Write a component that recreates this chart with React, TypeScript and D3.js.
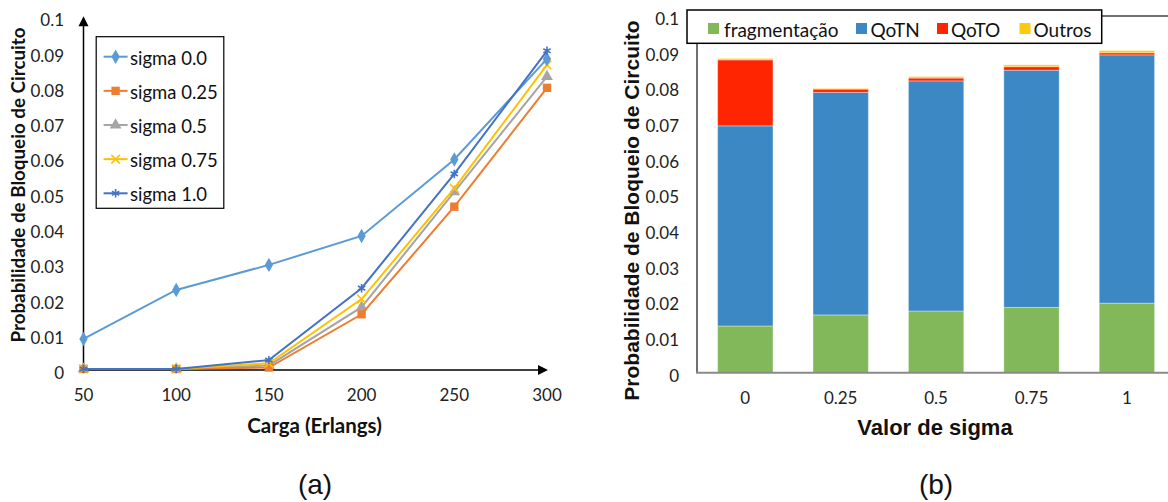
import React from "react";
import * as d3 from "d3";

// ---------- Data: chart (a) ----------
const LOADS = [50, 100, 150, 200, 250, 300];
const LOAD_TICKS = [50, 100, 150, 200, 250, 300];
const SERIES_NAMES = ["sigma 0.0", "sigma 0.25", "sigma 0.5", "sigma 0.75", "sigma 1.0"];
const SIGMA_00 = [0.0088, 0.0227, 0.0298, 0.038, 0.0597, 0.0882];
const SIGMA_025 = [0.0003, 0.0003, 0.0007, 0.0158, 0.0463, 0.08];
const SIGMA_05 = [0.0003, 0.0003, 0.0013, 0.0178, 0.0505, 0.0832];
const SIGMA_075 = [0.0003, 0.0003, 0.0019, 0.0201, 0.0515, 0.0865];
const SIGMA_10 = [0.0003, 0.0003, 0.0028, 0.0232, 0.0556, 0.0905];
const Y_TICKS = [0, 0.01, 0.02, 0.03, 0.04, 0.05, 0.06, 0.07, 0.08, 0.09, 0.1];

// ---------- Data: chart (b) ----------
const SIGMA_CATS = ["0", "0.25", "0.5", "0.75", "1"];
const CAUSES = ["fragmentação", "QoTN", "QoTO", "Outros"];
const FRAG = [0.0131, 0.0162, 0.0173, 0.0183, 0.0195];
const QOTN = [0.0561, 0.0624, 0.0645, 0.0665, 0.0696];
const QOTO = [0.0185, 0.0009, 0.0008, 0.001, 0.0006];
const OUTROS = [0.0004, 0.0002, 0.0004, 0.0005, 0.0006];

const LINE_COLORS = ["#5B9BD5", "#ED7D31", "#A5A5A5", "#FFC000", "#4472C4"];
const MARKERS = [d3.symbolDiamond, d3.symbolSquare, d3.symbolTriangle, d3.symbolTimes, d3.symbolAsterisk];
const MARKER_FILLED = [true, true, true, false, false];
const BAR_COLORS = ["#82B75A", "#3B88C4", "#FF2500", "#FFC90E"];

const CAL = "Lato, 'Open Sans', sans-serif";
const ARIAL = "'Liberation Sans', Arial, sans-serif";

function Marker({ i, x, y }: { i: number; x: number; y: number }) {
  const size = MARKER_FILLED[i] ? (i === 1 ? 70 : 60) : 50;
  const p = d3.symbol().type(MARKERS[i]).size(size)() || "";
  return (
    <path
      d={p}
      transform={`translate(${x},${y})`}
      fill={MARKER_FILLED[i] ? LINE_COLORS[i] : "none"}
      stroke={LINE_COLORS[i]}
      strokeWidth={MARKER_FILLED[i] ? 0 : 1.6}
    />
  );
}

function ChartA() {
  const series = [SIGMA_00, SIGMA_025, SIGMA_05, SIGMA_075, SIGMA_10];
  const x = d3.scaleLinear().domain([50, 300]).range([83.5, 547]);
  const y = d3.scaleLinear().domain([0, 0.1]).range([370, 17.3]);
  const line = d3
    .line<number>()
    .x((_, k) => x(LOADS[k]))
    .y((v) => y(v));
  const order = [2, 1, 3, 0, 4];
  return (
    <g>
      {/* axes */}
      <line x1={x(50)} x2={x(50)} y1={y(0)} y2={y(0.1) + 6} stroke="#000" strokeWidth={1.5} />
      <path d={`M${x(50)},${y(0.1) - 1} l-5,10 l10,0 z`} fill="#000" />
      <line x1={x(50)} x2={x(300) - 6} y1={y(0)} y2={y(0)} stroke="#000" strokeWidth={1.5} />
      <path d={`M${x(300) + 1},${y(0)} l-10,-5 l0,10 z`} fill="#000" />
      {Y_TICKS.map((t) => (
        <text key={t} x={64} y={y(t) + 2.6} textAnchor="end" dominantBaseline="central" fontFamily={CAL} fontSize={17} fill="#222">
          {+t.toFixed(2)}
        </text>
      ))}
      {LOAD_TICKS.map((t) => (
        <text key={t} x={x(t)} y={394.5} textAnchor="middle" dominantBaseline="central" fontFamily={CAL} fontSize={17} fill="#222">
          {t}
        </text>
      ))}
      {order.map((i) => (
        <g key={i}>
          <path d={line(series[i]) || ""} fill="none" stroke={LINE_COLORS[i]} strokeWidth={2} />
          {series[i].map((v, k) => (
            <Marker key={k} i={i} x={x(LOADS[k])} y={y(v)} />
          ))}
        </g>
      ))}
      {/* legend */}
      <rect x={96.2} y={36.7} width={127.6} height={171.6} fill="#fff" stroke="#000" strokeWidth={1.2} />
      {SERIES_NAMES.map((n, i) => {
        const ly = 56.7 + i * 34.15;
        return (
          <g key={n}>
            <line x1={103.6} x2={127.6} y1={ly} y2={ly} stroke={LINE_COLORS[i]} strokeWidth={2} />
            <Marker i={i} x={115.6} y={ly} />
            <text x={130} y={ly + 1} dominantBaseline="central" fontFamily={CAL} fontSize={18.5} fill="#111">
              {n}
            </text>
          </g>
        );
      })}
      <text x={314.5} y={425} textAnchor="middle" dominantBaseline="central" fontFamily={CAL} fontWeight="bold" fontSize={20.5} fill="#111">
        Carga (Erlangs)
      </text>
      <text
        transform={`translate(17.5,185) rotate(-90)`}
        textAnchor="middle"
        dominantBaseline="central"
        fontFamily={CAL}
        fontWeight="bold"
        fontSize={18.8}
        fill="#111"
      >
        Probabilidade de Bloqueio de Circuito
      </text>
      <text x={315} y={484} textAnchor="middle" dominantBaseline="central" fontFamily={ARIAL} fontSize={28} fill="#111">
        (a)
      </text>
    </g>
  );
}

function ChartB() {
  const x = d3.scaleBand<string>().domain(SIGMA_CATS).range([697.6, 1174.6]).paddingInner(0.42).paddingOuter(0.21);
  const y = d3.scaleLinear().domain([0, 0.1]).range([372.7, 16]);
  const rows = SIGMA_CATS.map((c, k) => ({ cat: c, f: FRAG[k], n: QOTN[k], o: QOTO[k], u: OUTROS[k] }));
  const stack = d3.stack<any>().keys(["f", "n", "o", "u"]);
  const layers = stack(rows);
  const legendItems = [
    { sx: 708, tx: 724 },
    { sx: 856, tx: 870.5 },
    { sx: 937, tx: 951 },
    { sx: 1019.5, tx: 1033.5 },
  ];
  return (
    <g>
      {Y_TICKS.map((t) => (
        <text key={t} x={679} y={y(t) + 2.4} textAnchor="end" dominantBaseline="central" fontFamily={CAL} fontSize={17} fill="#222">
          {+t.toFixed(2)}
        </text>
      ))}
      {layers.map((layer, li) =>
        layer.map((d, k) => (
          <rect
            key={`${li}-${k}`}
            x={x(SIGMA_CATS[k])}
            width={x.bandwidth()}
            y={y(d[1])}
            height={Math.max(0, y(d[0]) - y(d[1]))}
            fill={BAR_COLORS[li]}
            stroke="#ffffff"
            strokeOpacity={0.35}
            strokeWidth={1}
          />
        ))
      )}
      <line x1={697} x2={1168} y1={y(0.1)} y2={y(0.1)} stroke="#404040" strokeWidth={1.5} />
      <line x1={697} x2={697} y1={y(0.1)} y2={y(0)} stroke="#404040" strokeWidth={1.5} />
      <line x1={696} x2={1168} y1={y(0)} y2={y(0)} stroke="#8A8A8A" strokeWidth={2} />
      {SIGMA_CATS.map((c) => (
        <text key={c} x={(x(c) || 0) + x.bandwidth() / 2} y={397} textAnchor="middle" dominantBaseline="central" fontFamily={CAL} fontSize={17} fill="#222">
          {c}
        </text>
      ))}
      <rect x={687} y={10} width={414.7} height={33.3} fill="#fff" stroke="#000" strokeWidth={1.5} />
      {CAUSES.map((c, i) => (
        <g key={c}>
          <rect x={legendItems[i].sx} y={23} width={11} height={11} fill={BAR_COLORS[i]} />
          <text x={legendItems[i].tx} y={29.5} dominantBaseline="central" fontFamily={CAL} fontSize={19} fill="#111">
            {c}
          </text>
        </g>
      ))}
      <text x={935} y={427} textAnchor="middle" dominantBaseline="central" fontFamily={ARIAL} fontWeight="bold" fontSize={22} fill="#111">
        Valor de sigma
      </text>
      <text
        transform={`translate(631,210.5) rotate(-90)`}
        textAnchor="middle"
        dominantBaseline="central"
        fontFamily={ARIAL}
        fontWeight="bold"
        fontSize={21}
        fill="#111"
      >
        Probabilidade de Bloqueio de Circuito
      </text>
      <text x={936} y={484} textAnchor="middle" dominantBaseline="central" fontFamily={ARIAL} fontSize={28} fill="#111">
        (b)
      </text>
    </g>
  );
}

export default function App() {
  return (
    <svg
      width={1168}
      height={502}
      viewBox="0 0 1168 502"
      style={{ position: "absolute", left: 0, top: 0, background: "#fff" }}
    >
      <rect x={0} y={0} width={1168} height={502} fill="#fff" />
      <ChartA />
      <ChartB />
    </svg>
  );
}
